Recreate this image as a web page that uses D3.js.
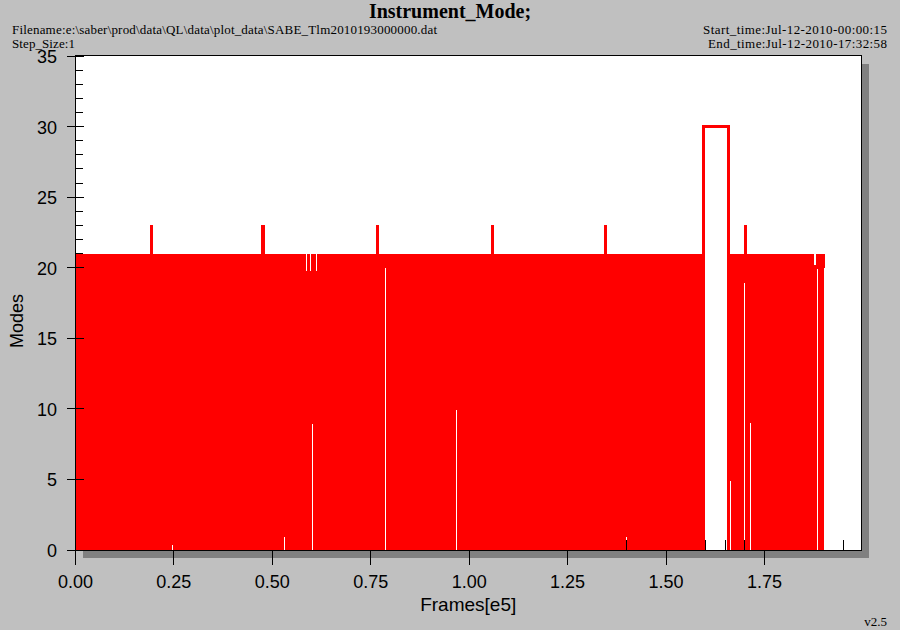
<!DOCTYPE html>
<html><head><meta charset="utf-8">
<script src="https://cdn.jsdelivr.net/npm/d3@7/dist/d3.min.js"></script>
<style>
html,body{margin:0;padding:0;background:#c0c0c0;}
svg{display:block;}
</style>
</head><body>
<svg id="chart" width="900" height="630"></svg>
<script>
// ---------------- data (frames in units of 1e5) ----------------
const titleText = "Instrument_Mode;";
const fileText = "Filename:e:\\saber\\prod\\data\\QL\\data\\plot_data\\SABE_Tlm2010193000000.dat";
const stepText = "Step_Size:1";
const startText = "Start_time:Jul-12-2010-00:00:15";
const endText = "End_time:Jul-12-2010-17:32:58";
const versionText = "v2.5";
const xLabel = "Frames[e5]";
const yLabel = "Modes";

const yTickValues = [0, 5, 10, 15, 20, 25, 30, 35];
const yMinorValues = d3.range(0, 36, 1);
const xTickValues = [0, 0.25, 0.5, 0.75, 1.0, 1.25, 1.5, 1.75];
const xMinorValues = d3.range(0, 40).map(i => i * 0.05);

// blocks where the mode toggles densely between low and high values
const blockStart = [0, 1.6584, 1.902];
const blockEnd   = [1.593, 1.902, 1.9048];
const blockLow   = [0, 0, 20];
const blockHigh  = [21, 21, 21];

// narrow columns where the range differs from the block around them
const dipX    = [0.2478, 0.5322, 0.5880, 0.5983, 0.6041, 0.6135, 0.7900, 0.9690, 1.4000, 1.6653, 1.6995, 1.7169, 1.8794, 1.8850];
const dipW    = [0.0025, 0.0025, 0.0025, 0.0025, 0.0025, 0.0025, 0.0025, 0.0025, 0.0025, 0.0025, 0.0025, 0.0025, 0.0060, 0.0050];
const dipLow  = [0.35,   0.9,    0,      0,      8.9,    0,      20.0,   9.9,    0.9,    4.9,    18.9,   9.0,    0,      19.9];
const dipHigh = [21,     21,     19.8,   19.8,   21,     19.8,   21,     21,     21,     21,     21,     21,     20.2,   21];

// short excursions to mode 23
const spikeX   = [0.192, 0.4764, 0.766, 1.0604, 1.3449, 1.7029];
const spikeW   = [0.0076, 0.0095, 0.0076, 0.0076, 0.0076, 0.0076];
const spikeLow = [21, 21, 21, 21, 21, 21];
const spikeTop = [23, 23, 23, 23, 23, 23];

// excursion to mode 30
const excX = [1.595, 1.595, 1.6584, 1.6584];
const excY = [0, 30, 30, 0];

// ---------------- layout ----------------
const svg = d3.select("#chart");
const L = 75.4, R = 861, T = 56, B = 550;
const x = d3.scaleLinear().domain([0, 1.995]).range([L, R]);
const y = d3.scaleLinear().domain([0, 35]).range([B, T]);
const RED = "#ff0000";

svg.append("rect").attr("width", 900).attr("height", 630).attr("fill", "#c0c0c0");

// shadow
svg.append("rect").attr("x", 83).attr("y", 64).attr("width", 786).attr("height", 494)
  .attr("fill", "#808080");
// plot background
svg.append("rect").attr("x", 75).attr("y", 55).attr("width", 787).attr("height", 495)
  .attr("fill", "#ffffff");

// inner minor ticks (drawn beneath the data)
const ticksG = svg.append("g").attr("stroke", "#000").attr("stroke-width", 1).attr("shape-rendering", "crispEdges");
ticksG.selectAll("line.ym").data(yMinorValues).join("line")
  .attr("x1", 75).attr("x2", 83)
  .attr("y1", d => Math.floor(y(d)) + 0.5).attr("y2", d => Math.floor(y(d)) + 0.5);
ticksG.selectAll("line.xm").data(xMinorValues).join("line")
  .attr("x1", d => Math.floor(x(d)) + 0.5).attr("x2", d => Math.floor(x(d)) + 0.5)
  .attr("y1", 540).attr("y2", 550);

// ---------------- data columns ----------------
function buildColumns() {
  const cols = [];
  const dips = dipX.map((c, i) => ({s: c - dipW[i] / 2, e: c + dipW[i] / 2, lo: dipLow[i], hi: dipHigh[i]}))
    .sort((a, b) => a.s - b.s);
  blockStart.forEach((bs, i) => {
    const be = blockEnd[i];
    let cur = bs;
    dips.filter(d => d.s >= bs && d.e <= be).forEach(d => {
      if (d.s > cur) cols.push({s: cur, e: d.s, lo: blockLow[i], hi: blockHigh[i]});
      cols.push(d);
      cur = d.e;
    });
    if (cur < be) cols.push({s: cur, e: be, lo: blockLow[i], hi: blockHigh[i]});
  });
  return cols;
}
const cols = buildColumns();
const dataG = svg.append("g").attr("shape-rendering", "crispEdges");
dataG.selectAll("rect.col").data(cols).join("rect")
  .attr("x", d => Math.floor(x(d.s)))
  .attr("width", d => Math.max(1, Math.floor(x(d.e)) - Math.floor(x(d.s))))
  .attr("y", d => Math.round(y(d.hi)))
  .attr("height", d => Math.round(y(d.lo)) - Math.round(y(d.hi)))
  .attr("fill", RED);

const spikePx = i => Math.max(1, Math.round(x(spikeW[i]) - x(0)));
dataG.selectAll("rect.spike").data(spikeX).join("rect")
  .attr("x", (d, i) => Math.round(x(d) - spikePx(i) / 2))
  .attr("width", (d, i) => spikePx(i))
  .attr("y", (d, i) => Math.round(y(spikeTop[i])))
  .attr("height", (d, i) => Math.round(y(spikeLow[i])) - Math.round(y(spikeTop[i])) + 1)
  .attr("fill", RED);

const excLine = d3.line().x(d => x(d[0])).y(d => y(d[1]));
dataG.append("path")
  .attr("d", excLine(excX.map((v, i) => [v, excY[i]])))
  .attr("fill", "none").attr("stroke", RED).attr("stroke-width", 3)
  .attr("stroke-linejoin", "miter");

// plot border
svg.append("rect").attr("x", 75.5).attr("y", 55.5).attr("width", 786).attr("height", 495)
  .attr("fill", "none").attr("stroke", "#000").attr("stroke-width", 1).attr("shape-rendering", "crispEdges");

// ---------------- axes ----------------
const axG = svg.append("g").attr("stroke", "#000").attr("stroke-width", 1).attr("shape-rendering", "crispEdges");
axG.selectAll("line.yM").data(yTickValues).join("line")
  .attr("x1", 67).attr("x2", 84)
  .attr("y1", d => Math.floor(y(d)) + 0.5).attr("y2", d => Math.floor(y(d)) + 0.5);
axG.selectAll("line.xM").data(xTickValues).join("line")
  .attr("x1", d => Math.floor(x(d)) + 0.5).attr("x2", d => Math.floor(x(d)) + 0.5)
  .attr("y1", 550).attr("y2", 565);

const sans = "'Liberation Sans', Arial, Helvetica, sans-serif";
const serif = "'Liberation Serif', 'Times New Roman', Times, serif";

svg.append("g").selectAll("text").data(yTickValues).join("text")
  .attr("x", 57).attr("y", d => y(d) + 7)
  .attr("text-anchor", "end").attr("font-family", sans).attr("font-size", 18).attr("fill", "#000")
  .text(d => d);

svg.append("g").selectAll("text").data(xTickValues).join("text")
  .attr("x", d => x(d)).attr("y", 588)
  .attr("text-anchor", "middle").attr("font-family", sans).attr("font-size", 18).attr("fill", "#000")
  .text(d => d3.format(".2f")(d));

svg.append("text").attr("x", (L + R) / 2).attr("y", 611).attr("text-anchor", "middle")
  .attr("font-family", sans).attr("font-size", 19).attr("fill", "#000").text(xLabel);
svg.append("text").attr("transform", "translate(23,321) rotate(-90)").attr("text-anchor", "middle")
  .attr("font-family", sans).attr("font-size", 18).attr("fill", "#000").text(yLabel);

// ---------------- header texts ----------------
svg.append("text").attr("x", 450).attr("y", 18).attr("text-anchor", "middle")
  .attr("font-family", serif).attr("font-weight", "bold").attr("font-size", 20).attr("fill", "#000").text(titleText);
svg.append("text").attr("x", 12).attr("y", 33.5).attr("font-family", serif).attr("font-size", 13)
  .attr("textLength", 425).attr("lengthAdjust", "spacing").attr("fill", "#000").text(fileText);
svg.append("text").attr("x", 12).attr("y", 47.5).attr("font-family", serif).attr("font-size", 13)
  .attr("textLength", 63).attr("lengthAdjust", "spacing").attr("fill", "#000").text(stepText);
svg.append("text").attr("x", 887).attr("y", 33.5).attr("text-anchor", "end").attr("font-family", serif).attr("font-size", 13)
  .attr("textLength", 184).attr("lengthAdjust", "spacing").attr("fill", "#000").text(startText);
svg.append("text").attr("x", 887).attr("y", 47.5).attr("text-anchor", "end").attr("font-family", serif).attr("font-size", 13)
  .attr("textLength", 179).attr("lengthAdjust", "spacing").attr("fill", "#000").text(endText);
svg.append("text").attr("x", 887).attr("y", 626).attr("text-anchor", "end").attr("font-family", serif).attr("font-size", 13).attr("fill", "#000").text(versionText);
</script>
</body></html>
